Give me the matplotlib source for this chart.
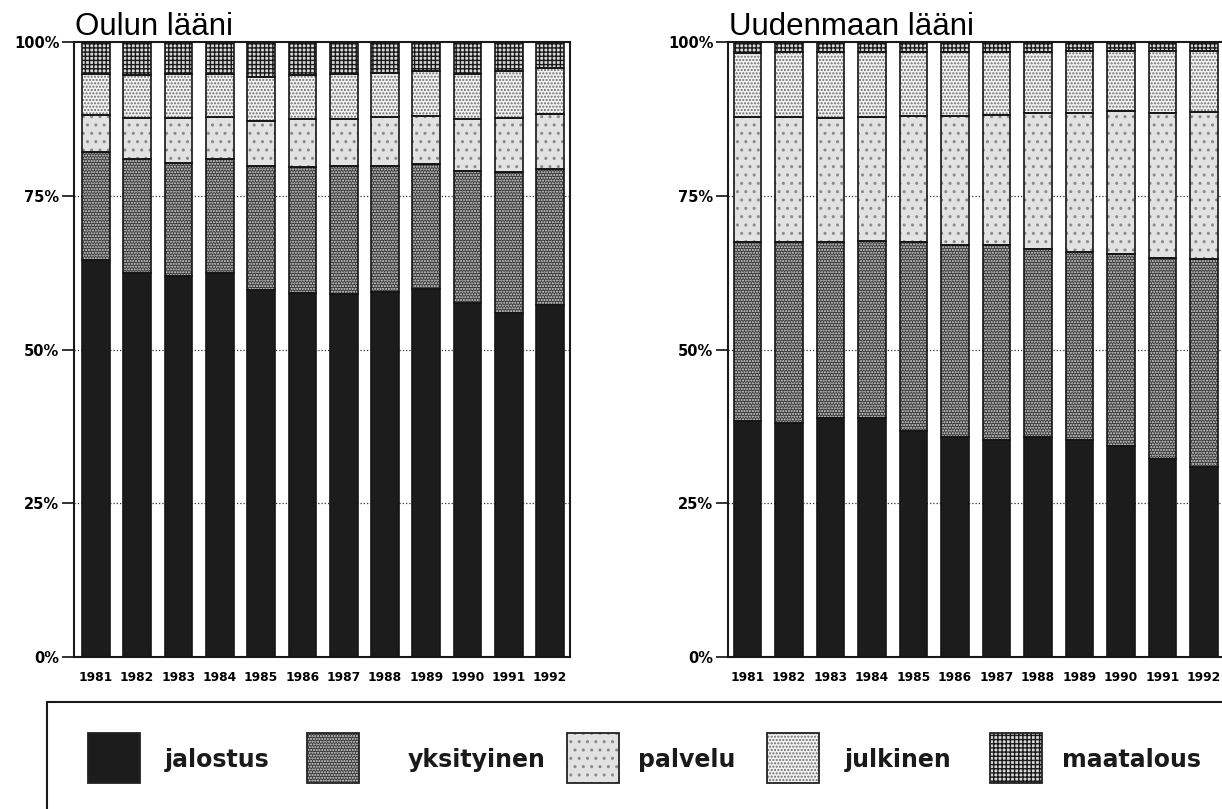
import matplotlib
matplotlib.use('Agg')
import matplotlib.pyplot as plt
import matplotlib.patches as mpatches
import numpy as np

# data (percent of the total)
years = ['1981', '1982', '1983', '1984', '1985', '1986',
         '1987', '1988', '1989', '1990', '1991', '1992']
series = ['jalostus', 'yksityinen', 'palvelu', 'julkinen', 'maatalous']

oulu_jalostus = [64.5, 62.5, 62.0, 62.5, 59.6, 59.2, 59.0, 59.3, 59.8, 57.5, 56.0, 57.2]
oulu_yksityinen = [17.6, 18.5, 18.4, 18.4, 20.2, 20.5, 20.8, 20.5, 20.3, 21.6, 22.8, 22.2]
oulu_palvelu = [6.0, 6.6, 7.2, 6.9, 7.4, 7.7, 7.7, 8.0, 7.9, 8.3, 8.8, 8.9]
oulu_julkinen = [6.7, 7.0, 7.2, 7.0, 7.1, 7.2, 7.3, 7.2, 7.3, 7.4, 7.7, 7.5]
oulu_maatalous = [5.2, 5.4, 5.2, 5.2, 5.7, 5.4, 5.2, 5.0, 4.7, 5.2, 4.7, 4.2]

uusimaa_jalostus = [38.4, 38.0, 38.9, 38.8, 36.7, 35.8, 35.3, 35.7, 35.3, 34.3, 32.2, 30.9]
uusimaa_yksityinen = [29.1, 29.5, 28.5, 28.8, 30.8, 31.2, 31.7, 30.6, 30.6, 31.2, 32.7, 33.8]
uusimaa_palvelu = [20.3, 20.3, 20.2, 20.2, 20.5, 21.0, 21.1, 22.2, 22.5, 23.2, 23.6, 23.9]
uusimaa_julkinen = [10.4, 10.5, 10.7, 10.5, 10.3, 10.3, 10.3, 9.9, 10.1, 9.8, 10.0, 10.0]
uusimaa_maatalous = [1.8, 1.7, 1.7, 1.7, 1.7, 1.7, 1.6, 1.6, 1.5, 1.5, 1.5, 1.4]

# face colour, hatch, hatch colour
styles = {
    'jalostus': ('#1c1c1c', None, '#1c1c1c'),
    'yksityinen': ('#3a3a3a', '......', '#dcdcdc'),
    'palvelu': ('#e2e2e2', '..', '#8a8a8a'),
    'julkinen': ('#f2f2f2', '.....', '#6a6a6a'),
    'maatalous': ('#d8d8d8', '++++', '#1a1a1a'),
}

plt.rcParams['hatch.linewidth'] = 1.0
bold = dict(family='DejaVu Sans', weight='bold')

fig = plt.figure(figsize=(12.22, 8.09), dpi=100)
W, H = 1222, 809


def draw_panel(left_px, title, data, xlim):
    ax = fig.add_axes([left_px / W, 1 - 657 / H, 496 / W, 615 / H])
    x = np.arange(len(years))
    bottom = np.zeros(len(years))
    for name, vals in zip(series, data):
        face, hatch, hc = styles[name]
        ax.bar(x, vals, 0.67, bottom=bottom, color=face, hatch=hatch,
               edgecolor=hc, linewidth=0, zorder=2)
        ax.bar(x, vals, 0.67, bottom=bottom, fill=False,
               edgecolor='#151515', linewidth=1.2, zorder=3)
        bottom += np.array(vals)
    ax.set_xlim(*xlim)
    ax.set_ylim(0, 100)
    ax.set_yticks([0, 25, 50, 75, 100])
    ax.set_yticklabels(['0%', '25%', '50%', '75%', '100%'], fontsize=10.5, **bold)
    ax.set_xticks(x)
    ax.set_xticklabels(years, fontsize=8.8, **bold)
    ax.tick_params(axis='x', length=0, pad=10)
    ax.tick_params(axis='y', length=9, width=1.3, pad=1.5, color='#222')
    for y in [25, 50, 75]:
        ax.axhline(y, color='#333', lw=0.9, ls=(0, (1, 1.6)), zorder=1)
    for s in ax.spines.values():
        s.set_linewidth(1.5)
        s.set_color('#1a1a1a')
    fig.text((left_px + 1) / W, 1 - 35 / H, title, fontsize=22.5,
             family='Liberation Sans', va='baseline', ha='left')
    return ax


draw_panel(74, 'Oulun lääni',
           [oulu_jalostus, oulu_yksityinen, oulu_palvelu, oulu_julkinen, oulu_maatalous],
           (-0.53, 11.48))
draw_panel(728, 'Uudenmaan lääni',
           [uusimaa_jalostus, uusimaa_yksityinen, uusimaa_palvelu, uusimaa_julkinen, uusimaa_maatalous],
           (-0.47, 11.48))

# legend box (runs off the right and bottom edge like the scan)
fig.add_artist(mpatches.Rectangle((47 / W, -0.05), 1.0, (1 - 702 / H) + 0.05,
                                  transform=fig.transFigure, fill=False,
                                  edgecolor='#1a1a1a', linewidth=1.5))

patch_x = [88, 307, 567, 767, 990]
text_x = [165, 408, 638, 845, 1062]
for name, px, tx in zip(series, patch_x, text_x):
    face, hatch, hc = styles[name]
    fig.add_artist(mpatches.Rectangle((px / W, 1 - 783 / H), 52 / W, 50 / H,
                                      transform=fig.transFigure, facecolor=face,
                                      hatch=hatch, edgecolor=hc, linewidth=0))
    fig.add_artist(mpatches.Rectangle((px / W, 1 - 783 / H), 52 / W, 50 / H,
                                      transform=fig.transFigure, fill=False,
                                      edgecolor='#222', linewidth=1.3))
    fig.text(tx / W, 1 - 767 / H, name, fontsize=17, va='baseline',
             ha='left', color='#1a1a1a', **bold)

fig.savefig('out.png', dpi=100)
